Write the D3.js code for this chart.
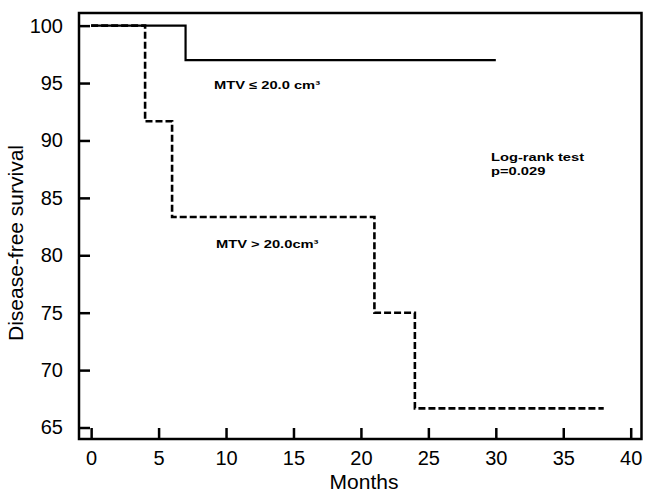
<html>
<head>
    <script src="https://d3js.org/d3.v7.min.js"></script>
    <style>
        body {
            margin: 0;
            background-color: #fff;
            font-family: "Liberation Sans", Arial, sans-serif;
        }
        .tick text {
            font-size: 20px;
            fill: #000;
        }
        .tick line {
            stroke: #000;
            stroke-width: 2.5;
        }
        .note {
            font-size: 11.5px;
            font-weight: bold;
            fill: #000;
        }
    </style>
</head>
<body>
<svg id="km" width="646" height="492"></svg>
<script>

    // Kaplan-Meier steps (months, survival %)
    const lowTimes = [0, 7, 30];
    const lowSurvival = [100, 97.0, 97.0];

    const highTimes = [0, 4, 6, 21, 24, 38];
    const highSurvival = [100, 91.67, 83.33, 75.0, 66.67, 66.67];

    const xTicks = [0, 5, 10, 15, 20, 25, 30, 35, 40];
    const yTicks = [65, 70, 75, 80, 85, 90, 95, 100];

    let svg = d3.select("svg#km");

    const margin = { top: 13, right: 4.5, bottom: 53, left: 79 };
    const width = svg.attr("width");
    const height = svg.attr("height");
    const chartWidth = width - margin.left - margin.right;
    const chartHeight = height - margin.top - margin.bottom;

    const xScale = d3.scaleLinear().domain([-0.9, 40.8]).range([0, chartWidth]);
    const yScale = d3.scaleLinear().domain([64, 101.1]).range([chartHeight, 0]);

    let chartArea = svg.append("g")
        .attr("transform", `translate(${margin.left},${margin.top})`);

    // axes with inward ticks
    let leftAxis = d3.axisLeft(yScale).tickValues(yTicks)
        .tickSizeInner(-11).tickSizeOuter(0).tickPadding(16);
    let leftAxisG = chartArea.append("g").call(leftAxis);
    leftAxisG.select(".domain").remove();

    let bottomAxis = d3.axisBottom(xScale).tickValues(xTicks)
        .tickSizeInner(-11).tickSizeOuter(0).tickPadding(12);
    let bottomAxisG = chartArea.append("g")
        .attr("transform", `translate(0,${chartHeight})`)
        .call(bottomAxis);
    bottomAxisG.select(".domain").remove();

    chartArea.append("rect")
        .attr("x", 0).attr("y", 0)
        .attr("width", chartWidth).attr("height", chartHeight)
        .attr("fill", "none")
        .attr("stroke", "#000")
        .attr("stroke-width", 2.5);

    const line = d3.line()
        .x(d => xScale(d[0]))
        .y(d => yScale(d[1]))
        .curve(d3.curveStepAfter);

    chartArea.append("path")
        .datum(d3.zip(highTimes, highSurvival))
        .attr("d", line)
        .attr("fill", "none")
        .attr("stroke", "#000")
        .attr("stroke-width", 2.6)
        .attr("stroke-dasharray", "7,3");

    chartArea.append("path")
        .datum(d3.zip(lowTimes, lowSurvival))
        .attr("d", line)
        .attr("fill", "none")
        .attr("stroke", "#000")
        .attr("stroke-width", 2.2);

    // axis titles
    svg.append("text")
        .attr("x", 364)
        .attr("y", 489)
        .attr("text-anchor", "middle")
        .style("font-size", "21px")
        .text("Months");

    svg.append("text")
        .attr("transform", "translate(23,243) rotate(-90)")
        .attr("text-anchor", "middle")
        .style("font-size", "21px")
        .text("Disease-free survival");

    // annotations (text in the original is wide, so stretch it a bit)
    function note(x, y, str) {
        svg.append("text")
            .attr("class", "note")
            .attr("transform", `translate(${x},${y}) scale(1.28,1)`)
            .text(str);
    }
    note(214, 89, "MTV \u2264 20.0 cm\u00b3");
    note(216, 248, "MTV > 20.0cm\u00b3");
    note(491, 161, "Log-rank test");
    note(491, 175, "p=0.029");

</script>
</body>
</html>
